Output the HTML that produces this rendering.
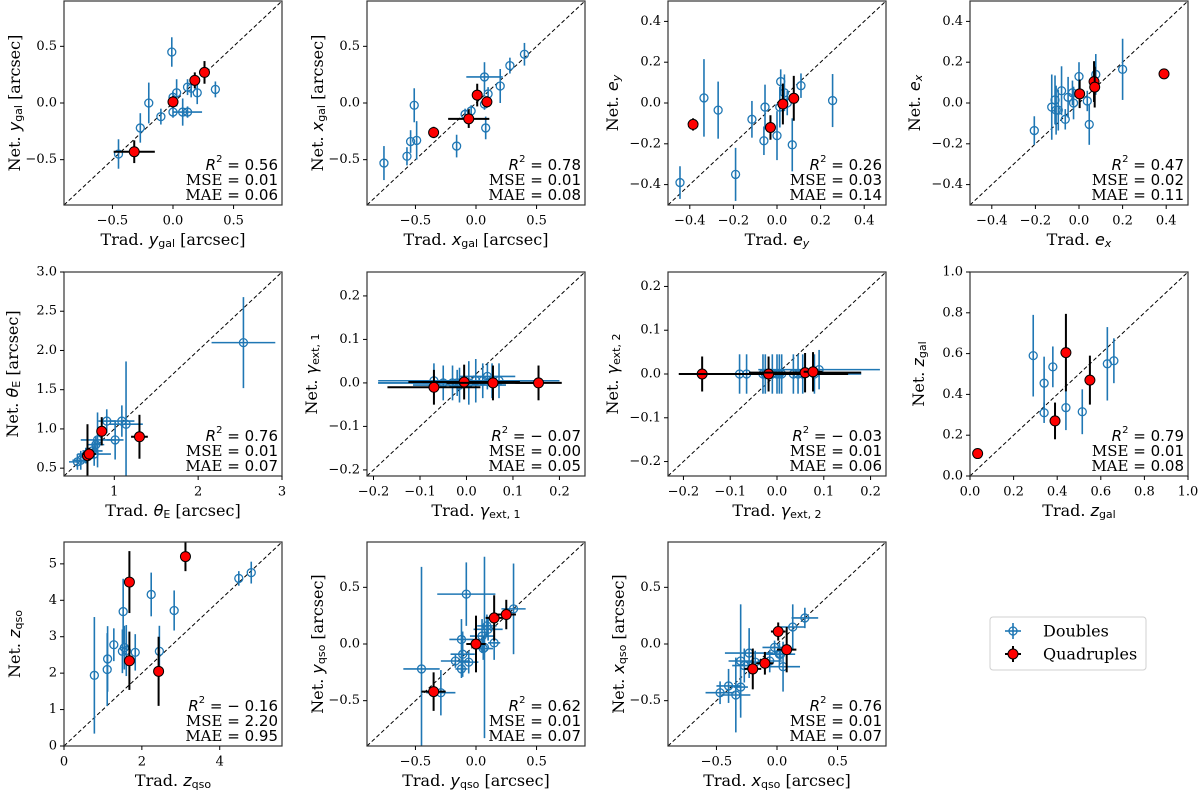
<!DOCTYPE html>
<html><head><meta charset="utf-8"><style>
html,body{margin:0;padding:0;background:#fff;}
svg{display:block;}
text{font-family:"DejaVu Serif","Liberation Serif",serif;fill:#000;}
.m{font-family:"DejaVu Sans","Liberation Sans",sans-serif;font-style:italic;}
.sub{font-family:"DejaVu Sans","Liberation Sans",sans-serif;font-style:normal;}
</style></head><body>
<svg id="fig" width="1200" height="790" viewBox="0 0 1200 790" xmlns="http://www.w3.org/2000/svg"></svg>
<script>
// ---- data: [trad, net, tradErr, netErr] ----
const ygalDoubles=[[-0.01,0.45,0,0.13],[-0.2,0.0,0,0.18],[-0.27,-0.22,0,0.13],[-0.45,-0.45,0,0.13],[-0.1,-0.12,0,0.07],[0,0.05,0,0.05],[0,-0.08,0,0.05],[0.03,0.09,0,0.12],[0.08,-0.08,0,0.12],[0.12,-0.08,0.12,0.05],[0.12,0.14,0,0.07],[0.15,0.13,0,0.08],[0.2,0.09,0,0.1],[0.35,0.12,0,0.07]];
const ygalQuads=[[-0.32,-0.43,0.17,0.1],[0,0.01,0,0.05],[0.18,0.2,0,0.07],[0.26,0.27,0,0.1]];
const xgalDoubles=[[-0.76,-0.53,0,0.15],[-0.57,-0.47,0,0.08],[-0.51,-0.02,0,0.15],[-0.54,-0.34,0,0.1],[-0.49,-0.33,0,0.17],[-0.16,-0.38,0,0.1],[-0.09,-0.1,0,0.05],[-0.04,-0.07,0,0.05],[0.07,0.23,0.15,0.13],[0.07,-0.01,0,0.05],[0.1,0.08,0,0.06],[0.08,-0.22,0,0.1],[0.2,0.15,0,0.15],[0.28,0.33,0,0.07],[0.4,0.43,0,0.1]];
const xgalQuads=[[-0.35,-0.26,0,0.05],[-0.06,-0.14,0.17,0.08],[0.01,0.07,0,0.1],[0.09,0.01,0,0.05]];
const eyDoubles=[[-0.445,-0.39,0,0.08],[-0.335,0.025,0,0.19],[-0.27,-0.035,0,0.14],[-0.19,-0.35,0,0.13],[-0.115,-0.08,0,0.09],[-0.06,-0.185,0,0.07],[-0.055,-0.02,0,0.11],[0,-0.16,0,0.12],[0.013,-0.02,0,0.1],[0.017,0.105,0,0.06],[0.034,0.05,0,0.09],[0.047,0.0,0,0.06],[0.07,-0.205,0,0.13],[0.11,0.085,0,0.06],[0.255,0.012,0,0.13]];
const eyQuads=[[-0.385,-0.105,0,0.03],[-0.03,-0.12,0,0.06],[0.027,-0.005,0,0.1],[0.077,0.023,0,0.11]];
const exDoubles=[[-0.205,-0.135,0,0.07],[-0.125,-0.02,0,0.16],[-0.11,0.015,0,0.12],[-0.105,-0.035,0,0.12],[-0.095,-0.035,0,0.1],[-0.08,0.06,0,0.12],[-0.063,-0.08,0,0.05],[-0.05,0.028,0,0.1],[-0.03,0.05,0,0.06],[-0.025,0.0,0,0.08],[0.0,0.13,0,0.07],[0.038,0.01,0,0.05],[0.047,-0.105,0,0.1],[0.077,0.14,0,0.1],[0.2,0.165,0,0.15]];
const exQuads=[[0.003,0.045,0,0.07],[0.069,0.105,0,0.1],[0.072,0.078,0,0.1],[0.39,0.143,0,0.02]];
const thetaDoubles=[[2.54,2.1,0.38,0.58],[0.91,1.1,0.1,0.15],[1.09,1.1,0.15,0.2],[1.14,1.06,0.2,0.8],[1.01,0.86,0.1,0.25],[0.8,0.86,0.2,0.35],[0.78,0.8,0.1,0.1],[0.76,0.68,0.2,0.15],[0.6,0.6,0.1,0.12],[0.56,0.58,0.1,0.1],[0.66,0.66,0.08,0.1],[0.74,0.72,0.12,0.1]];
const thetaQuads=[[0.68,0.66,0.05,0.4],[0.7,0.68,0.08,0.08],[0.85,0.97,0.06,0.18],[1.3,0.9,0.1,0.28]];
const g1Doubles=[[-0.07,0.005,0.12,0.04],[-0.05,0.0,0.14,0.04],[-0.03,0.0,0.09,0.04],[-0.015,-0.005,0.1,0.04],[0.005,0.0,0.1,0.05],[0.02,0.005,0.07,0.05],[0.035,0.005,0.09,0.04],[0.045,0.015,0.06,0.03],[0.055,0.005,0.11,0.04],[0.07,0.005,0.13,0.04],[-0.02,0.0,0.17,0.03]];
const g1Quads=[[-0.07,-0.01,0.1,0.04],[-0.005,0.002,0.12,0.04],[0.057,0.0,0.1,0.04],[0.155,0.0,0.05,0.04]];
const g2Doubles=[[-0.08,0,0.1,0.045],[-0.065,0,0.08,0.045],[-0.03,0,0.1,0.045],[-0.025,0,0.06,0.045],[-0.01,0,0.08,0.045],[0.0,0,0.1,0.045],[0.005,0,0.07,0.045],[0.01,0,0.09,0.045],[0.035,0,0.06,0.045],[0.045,0,0.08,0.045],[0.055,0,0.1,0.045],[0.09,0.01,0.13,0.045],[0.08,0.0,0.1,0.045]];
const g2Quads=[[-0.16,0,0.05,0.04],[-0.018,0,0.17,0.04],[0.06,0.003,0.12,0.045],[0.077,0.005,0.02,0.045]];
const zgalDoubles=[[0.29,0.59,0,0.2],[0.34,0.455,0,0.13],[0.34,0.31,0,0.05],[0.38,0.535,0,0.1],[0.44,0.335,0,0.11],[0.515,0.315,0,0.11],[0.63,0.55,0,0.18],[0.66,0.565,0,0.11]];
const zgalQuads=[[0.035,0.11,0,0.02],[0.39,0.27,0,0.09],[0.44,0.605,0,0.19],[0.55,0.47,0,0.12]];
const zqsoDoubles=[[0.78,1.94,0,1.6],[1.11,2.1,0,1.0],[1.12,2.39,0,0.9],[1.28,2.78,0,0.45],[1.52,3.69,0,0.9],[1.5,2.6,0,0.6],[1.55,2.7,0,0.6],[1.6,2.62,0,0.7],[1.83,2.57,0,0.5],[2.24,4.16,0,0.6],[2.45,2.6,0,0.7],[2.83,3.72,0,0.55],[4.49,4.6,0,0.2],[4.81,4.76,0,0.3]];
const zqsoQuads=[[1.68,4.5,0,0.85],[1.68,2.34,0,0.8],[2.43,2.05,0,0.95],[3.12,5.2,0,0.4]];
const yqsoDoubles=[[-0.08,0.44,0.24,0.28],[-0.45,-0.22,0.15,0.9],[-0.29,-0.43,0.12,0.2],[0.07,-0.03,0,0.8],[-0.12,0.04,0.1,0.18],[-0.11,-0.09,0.1,0.2],[-0.12,-0.22,0.05,0.08],[-0.17,-0.15,0.12,0.06],[-0.06,-0.16,0.08,0.1],[0.05,0.07,0.1,0.15],[0.09,0.16,0.08,0.1],[0.1,0.13,0.12,0.1],[0.06,-0.04,0.08,0.1],[0.31,0.31,0.1,0.4],[0.15,0.01,0.05,0.15]];
const yqsoQuads=[[-0.35,-0.42,0.1,0.17],[0.0,0.0,0.08,0.25],[0.15,0.23,0.07,0.2],[0.25,0.26,0.08,0.13]];
const xqsoDoubles=[[0.23,0.23,0.11,0.09],[0.13,0.15,0.1,0.2],[-0.47,-0.43,0.12,0.1],[-0.4,-0.37,0.1,0.15],[-0.34,-0.45,0.12,0.33],[-0.3,-0.38,0.06,0.2],[-0.3,-0.15,0.1,0.5],[-0.27,-0.19,0.1,0.15],[-0.23,-0.08,0.2,0.22],[-0.18,-0.16,0.08,0.1],[-0.06,-0.15,0.1,0.1],[-0.02,-0.03,0.1,0.06],[0.02,-0.09,0.1,0.1],[0.05,-0.2,0.14,0.22],[0.03,-0.09,0.12,0.05]];
const xqsoQuads=[[0.01,0.11,0.06,0.08],[0.08,-0.05,0.08,0.2],[-0.1,-0.17,0.07,0.1],[-0.2,-0.22,0.07,0.18]];
// ---- tick labels ----
const ticksPos=[-0.5,0,0.5], ticksPosLabels=["\u22120.5","0.0","0.5"];
const ticksE=[-0.4,-0.2,0,0.2,0.4], ticksELabels=["\u22120.4","\u22120.2","0.0","0.2","0.4"];
const ticksThetaX=[1,2,3], ticksThetaXLabels=["1","2","3"];
const ticksThetaY=[0.5,1,1.5,2,2.5,3], ticksThetaYLabels=["0.5","1.0","1.5","2.0","2.5","3.0"];
const ticksG=[-0.2,-0.1,0,0.1,0.2], ticksGLabels=["\u22120.2","\u22120.1","0.0","0.1","0.2"];
const ticksZgal=[0,0.2,0.4,0.6,0.8,1], ticksZgalLabels=["0.0","0.2","0.4","0.6","0.8","1.0"];
const ticksZqsoX=[0,2,4], ticksZqsoXLabels=["0","2","4"];
const ticksZqsoY=[0,1,2,3,4,5], ticksZqsoYLabels=["0","1","2","3","4","5"];
const statsR2=["0.56","0.78","0.26","0.47","0.76","\u2212 0.07","\u2212 0.03","0.79","\u2212 0.16","0.62","0.76"];
const statsMSE=["0.01","0.01","0.03","0.02","0.01","0.00","0.01","0.01","2.20","0.01","0.01"];
const statsMAE=["0.06","0.08","0.14","0.11","0.07","0.05","0.06","0.08","0.95","0.07","0.07"];

const NS="http://www.w3.org/2000/svg";
const svg=document.getElementById('fig');
function mk(tag,attrs,parent){const e=document.createElementNS(NS,tag);for(const k in attrs)e.setAttribute(k,attrs[k]);(parent||svg).appendChild(e);return e;}
const cols=[64,367,668,970], rows=[1,272,542], W=218, H=204;
const BLUE="#1f77b4";
function label(parent,x,y,rot,parts){
  const t=mk('text',{x:x,y:y,'font-size':16,'text-anchor':'middle','dominant-baseline':'central',transform:rot?`rotate(-90 ${x} ${y})`:''},parent);
  parts.forEach(p=>{const s=document.createElementNS(NS,'tspan');
    if(p[1]==='m')s.setAttribute('class','m');
    if(p[1]==='s'){s.setAttribute('class','sub');s.setAttribute('font-size','11');s.setAttribute('dy','4');}
    if(p[1]==='u'){s.setAttribute('dy','-4');}
    s.textContent=p[0];t.appendChild(s);});
  return t;
}
const panels=[
 {name:'ygal',d:ygalDoubles,q:ygalQuads,lim:[-0.9,0.9],xt:ticksPos,xl:ticksPosLabels,yt:ticksPos,yl:ticksPosLabels,sym:'y',sub:'gal',unit:' [arcsec]'},
 {name:'xgal',d:xgalDoubles,q:xgalQuads,lim:[-0.9,0.9],xt:ticksPos,xl:ticksPosLabels,yt:ticksPos,yl:ticksPosLabels,sym:'x',sub:'gal',unit:' [arcsec]'},
 {name:'ey',d:eyDoubles,q:eyQuads,lim:[-0.5,0.5],xt:ticksE,xl:ticksELabels,yt:ticksE,yl:ticksELabels,sym:'e',sub:'y',subm:true,unit:''},
 {name:'ex',d:exDoubles,q:exQuads,lim:[-0.5,0.5],xt:ticksE,xl:ticksELabels,yt:ticksE,yl:ticksELabels,sym:'e',sub:'x',subm:true,unit:''},
 {name:'theta',d:thetaDoubles,q:thetaQuads,lim:[0.4,3.0],xt:ticksThetaX,xl:ticksThetaXLabels,yt:ticksThetaY,yl:ticksThetaYLabels,sym:'\u03b8',sub:'E',unit:' [arcsec]'},
 {name:'gamma1',d:g1Doubles,q:g1Quads,lim:[-0.214,0.255],xt:ticksG,xl:ticksGLabels,yt:ticksG,yl:ticksGLabels,sym:'\u03b3',sub:'ext, 1',unit:''},
 {name:'gamma2',d:g2Doubles,q:g2Quads,lim:[-0.233,0.233],xt:ticksG,xl:ticksGLabels,yt:ticksG,yl:ticksGLabels,sym:'\u03b3',sub:'ext, 2',unit:''},
 {name:'zgal',d:zgalDoubles,q:zgalQuads,lim:[0,1],xt:ticksZgal,xl:ticksZgalLabels,yt:ticksZgal,yl:ticksZgalLabels,sym:'z',sub:'gal',unit:''},
 {name:'zqso',d:zqsoDoubles,q:zqsoQuads,lim:[0,5.6],xt:ticksZqsoX,xl:ticksZqsoXLabels,yt:ticksZqsoY,yl:ticksZqsoYLabels,sym:'z',sub:'qso',unit:''},
 {name:'yqso',d:yqsoDoubles,q:yqsoQuads,lim:[-0.9,0.9],xt:ticksPos,xl:ticksPosLabels,yt:ticksPos,yl:ticksPosLabels,sym:'y',sub:'qso',unit:' [arcsec]'},
 {name:'xqso',d:xqsoDoubles,q:xqsoQuads,lim:[-0.9,0.9],xt:ticksPos,xl:ticksPosLabels,yt:ticksPos,yl:ticksPosLabels,sym:'x',sub:'qso',unit:' [arcsec]'}
];
panels.forEach((p,i)=>{
  const L=cols[i%4], T=rows[Math.floor(i/4)], R=L+W, B=T+H;
  const g=mk('g',{});
  
  
  const sx=v=>L+(v-p.lim[0])/(p.lim[1]-p.lim[0])*W;
  const sy=v=>B-(v-p.lim[0])/(p.lim[1]-p.lim[0])*H;
  const cp=mk('clipPath',{id:'c'+i},g); mk('rect',{x:L,y:T,width:W,height:H},cp);
  const diag=mk('line',{x1:L,y1:B,x2:R,y2:T,stroke:'#000','stroke-width':1,'stroke-dasharray':'4,2.5'},g);
  
  
  const marks=mk('g',{'clip-path':`url(#c${i})`},g);
  function series(arr,quad){
    arr.forEach(r=>{
      const cx=sx(r[0]), cy=sy(r[1]);
      const col=quad?'#000':BLUE, lw=quad?2:1.6;
      const pt=mk('g',{},marks);
      
      
      if(r[2]>0) mk('line',{x1:sx(r[0]-r[2]),x2:sx(r[0]+r[2]),y1:cy,y2:cy,stroke:col,'stroke-width':lw},pt);
      if(r[3]>0) mk('line',{x1:cx,x2:cx,y1:sy(r[1]-r[3]),y2:sy(r[1]+r[3]),stroke:col,'stroke-width':lw},pt);
      if(quad) mk('circle',{cx:cx,cy:cy,r:5,fill:'#ff0000',stroke:'#000','stroke-width':1},pt);
      else mk('circle',{cx:cx,cy:cy,r:4,fill:'none',stroke:BLUE,'stroke-width':1.3},pt);
    });
  }
  series(p.d,false); series(p.q,true);
  const fr=mk('rect',{x:L,y:T,width:W,height:H,fill:'none',stroke:'#333','stroke-width':1.2},g);
  
  
  p.xt.forEach((v,k)=>{const x=sx(v);mk('line',{x1:x,x2:x,y1:B,y2:B+4,stroke:'#000'},g);
    const t=mk('text',{x:x,y:B+16,'font-size':13,'text-anchor':'middle','dominant-baseline':'central'},g);t.textContent=p.xl[k];
    
    });
  p.yt.forEach((v,k)=>{const y=sy(v);mk('line',{x1:L-4,x2:L,y1:y,y2:y,stroke:'#000'},g);
    const t=mk('text',{x:L-7,y:y,'font-size':13,'text-anchor':'end','dominant-baseline':'central'},g);t.textContent=p.yl[k];
    
    });
  const subType=p.subm?'s':'s';
  const xl=label(g,L+W/2,B+34,false,[['Trad. ',''],[p.sym,'m'],[p.sub,subType],[p.unit,'u']]);
  
  
  if(p.subm) xl.children[2].setAttribute('class','m');
  const yw=(p.name==='ey'||p.name==='ex'||p.name.startsWith('gamma'))?56:(p.name==='zgal'||p.name==='theta'?52:50);
  const yl=label(g,L-yw,T+H/2,true,[['Net. ',''],[p.sym,'m'],[p.sub,subType],[p.unit,'u']]);
  
  
  if(p.subm) yl.children[2].setAttribute('class','m');
  const st=mk('g',{},g);
  
  
  const t1=mk('text',{x:R-4,y:B-40,'font-size':15,'text-anchor':'end','dominant-baseline':'central'},st);
  const a=document.createElementNS(NS,'tspan');a.setAttribute('class','m');a.textContent='R';t1.appendChild(a);
  const b=document.createElementNS(NS,'tspan');b.setAttribute('class','sub');b.setAttribute('font-size','10');b.setAttribute('dy','-6');b.textContent='2';t1.appendChild(b);
  const c=document.createElementNS(NS,'tspan');c.setAttribute('class','sub');c.setAttribute('dy','6');c.textContent=' = '+statsR2[i];t1.appendChild(c);
  const t2=mk('text',{x:R-4,y:B-25,'font-size':15,'text-anchor':'end','dominant-baseline':'central'},st);
  t2.innerHTML='MSE <tspan class="sub">= '+statsMSE[i]+'</tspan>';
  const t3=mk('text',{x:R-4,y:B-10,'font-size':15,'text-anchor':'end','dominant-baseline':'central'},st);
  t3.innerHTML='MAE <tspan class="sub">= '+statsMAE[i]+'</tspan>';
});
// legend
const lg=mk('g',{});


mk('rect',{x:990,y:617,width:156,height:53,rx:3,fill:'#fff',stroke:'#d0d0d0','stroke-width':1},lg);
const e1=mk('g',{},lg);


mk('line',{x1:1005,x2:1021,y1:631,y2:631,stroke:BLUE,'stroke-width':1.6},e1);
mk('line',{x1:1013,x2:1013,y1:623,y2:639,stroke:BLUE,'stroke-width':1.6},e1);
mk('circle',{cx:1013,cy:631,r:4,fill:'none',stroke:BLUE,'stroke-width':1.3},e1);
const lt1=mk('text',{x:1043,y:631,'font-size':16,'dominant-baseline':'central'},e1);lt1.textContent='Doubles';
const e2=mk('g',{},lg);


mk('line',{x1:1005,x2:1021,y1:654,y2:654,stroke:'#000','stroke-width':2},e2);
mk('line',{x1:1013,x2:1013,y1:646,y2:662,stroke:'#000','stroke-width':2},e2);
mk('circle',{cx:1013,cy:654,r:5,fill:'#ff0000',stroke:'#000','stroke-width':1},e2);
const lt2=mk('text',{x:1043,y:654,'font-size':16,'dominant-baseline':'central'},e2);lt2.textContent='Quadruples';
</script>
</body></html>
